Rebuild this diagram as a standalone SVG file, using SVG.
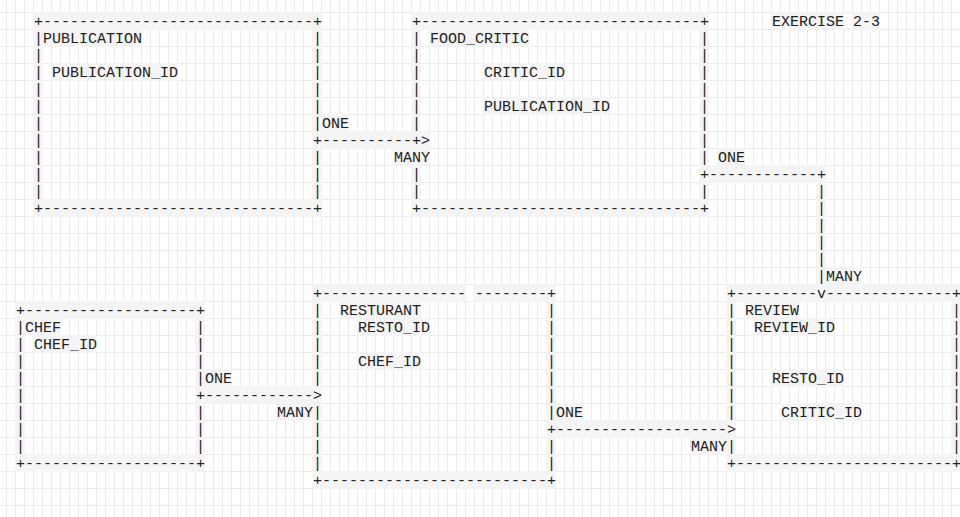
<svg xmlns="http://www.w3.org/2000/svg" width="960" height="517" viewBox="0 0 960 517">
<style>
text{font-family:"Liberation Mono","Courier New",monospace;font-size:15px;fill:#222;white-space:pre;transform:translate(1px,0)}
.b{fill:#f4f4f4}
</style>
<defs>
<pattern id="grid" x="6" y="12" width="9" height="17" patternUnits="userSpaceOnUse">
<rect width="9" height="1" fill="#ebebeb"/>
<rect width="1" height="17" fill="#ebebeb"/>
</pattern>
</defs>
<rect width="960" height="517" fill="#fff"/>
<rect width="960" height="517" fill="url(#grid)"/>

<g id="title">
<rect class="b" x="771" y="12" width="73" height="18"/>
<rect class="b" x="852" y="12" width="28" height="18"/>
<text x="771" y="26" xml:space="preserve">EXERCISE 2-3</text>
</g>

<g id="publication">
<rect class="b" x="33" y="12" width="289" height="18"/>
<rect class="b" x="33" y="199" width="289" height="18"/>
<rect class="b" x="33" y="12" width="10" height="205"/>
<rect class="b" x="312" y="12" width="10" height="205"/>
<rect class="b" x="42" y="29" width="100" height="18"/>
<rect class="b" x="51" y="63" width="127" height="18"/>
<text y="26"><tspan x="33">+------------------------------</tspan><tspan x="312">+</tspan></text>
<text x="33 33 33 33 33 33 33 33 33 33" y="43 60 77 94 111 128 145 162 179 196">||||||||||</text>
<text x="312 312 312 312 312 312 312 312 312" y="43 60 77 94 111 128 162 179 196">|||||||||</text>
<text x="42" y="43">PUBLICATION</text>
<text x="51" y="77">PUBLICATION_ID</text>
<text y="213"><tspan x="33">+------------------------------</tspan><tspan x="312">+</tspan></text>
</g>

<g id="food_critic">
<rect class="b" x="411" y="12" width="298" height="18"/>
<rect class="b" x="411" y="199" width="298" height="18"/>
<rect class="b" x="411" y="12" width="10" height="205"/>
<rect class="b" x="699" y="12" width="10" height="205"/>
<rect class="b" x="429" y="29" width="100" height="18"/>
<rect class="b" x="483" y="63" width="82" height="18"/>
<rect class="b" x="483" y="97" width="127" height="18"/>
<text y="26"><tspan x="411">+-------------------------------</tspan><tspan x="699">+</tspan></text>
<text x="411 411 411 411 411 411 411 411" y="43 60 77 94 111 128 179 196">||||||||</text>
<text x="699 699 699 699 699 699 699 699 699" y="43 60 77 94 111 128 145 162 196">|||||||||</text>
<text x="429" y="43">FOOD_CRITIC</text>
<text x="483" y="77">CRITIC_ID</text>
<text x="483" y="111">PUBLICATION_ID</text>
<text y="213"><tspan x="411">+-------------------------------</tspan><tspan x="699">+</tspan></text>
</g>

<g id="chef">
<rect class="b" x="15" y="301" width="190" height="18"/>
<rect class="b" x="15" y="454" width="190" height="18"/>
<rect class="b" x="15" y="301" width="10" height="171"/>
<rect class="b" x="195" y="301" width="10" height="171"/>
<rect class="b" x="24" y="318" width="37" height="18"/>
<rect class="b" x="33" y="335" width="64" height="18"/>
<text y="315"><tspan x="15">+-------------------</tspan><tspan x="195">+</tspan></text>
<text x="15 15 15 15 15 15 15 15" y="332 349 366 383 400 417 434 451">||||||||</text>
<text x="195 195 195 195 195 195 195" y="332 349 366 383 417 434 451">|||||||</text>
<text x="24" y="332">CHEF</text>
<text x="33" y="349">CHEF_ID</text>
<text y="468"><tspan x="15">+-------------------</tspan><tspan x="195">+</tspan></text>
</g>

<g id="resturant">
<rect class="b" x="312" y="284" width="154" height="18"/>
<rect class="b" x="474" y="284" width="82" height="18"/>
<rect class="b" x="312" y="471" width="244" height="18"/>
<rect class="b" x="312" y="284" width="10" height="205"/>
<rect class="b" x="546" y="284" width="10" height="205"/>
<rect class="b" x="339" y="301" width="82" height="18"/>
<rect class="b" x="357" y="318" width="73" height="18"/>
<rect class="b" x="357" y="352" width="64" height="18"/>
<text y="298"><tspan x="312">+----------------</tspan><tspan x="474">--------</tspan><tspan x="546">+</tspan></text>
<text x="312 312 312 312 312 312 312 312 312" y="315 332 349 366 383 417 434 451 468">|||||||||</text>
<text x="546 546 546 546 546 546 546 546 546" y="315 332 349 366 383 400 417 451 468">|||||||||</text>
<text x="339" y="315">RESTURANT</text>
<text x="357" y="332">RESTO_ID</text>
<text x="357" y="366">CHEF_ID</text>
<text y="485"><tspan x="312">+-------------------------</tspan><tspan x="546">+</tspan></text>
</g>

<g id="review">
<rect class="b" x="726" y="284" width="235" height="18"/>
<rect class="b" x="726" y="454" width="235" height="18"/>
<rect class="b" x="726" y="284" width="10" height="188"/>
<rect class="b" x="951" y="284" width="10" height="188"/>
<rect class="b" x="744" y="301" width="55" height="18"/>
<rect class="b" x="753" y="318" width="82" height="18"/>
<rect class="b" x="771" y="369" width="73" height="18"/>
<rect class="b" x="780" y="403" width="82" height="18"/>
<text y="298"><tspan x="726">+---------</tspan><tspan x="825">--------------</tspan><tspan x="951">+</tspan></text>
<text x="726 726 726 726 726 726 726 726" y="315 332 349 366 383 400 417 451">||||||||</text>
<text x="951 951 951 951 951 951 951 951 951" y="315 332 349 366 383 400 417 434 451">|||||||||</text>
<text x="744" y="315">REVIEW</text>
<text x="753" y="332">REVIEW_ID</text>
<text x="771" y="383">RESTO_ID</text>
<text x="780" y="417">CRITIC_ID</text>
<text y="468"><tspan x="726">+------------------------</tspan><tspan x="951">+</tspan></text>
</g>

<g id="connectors">
<g id="pub-critic">
<rect class="b" x="321" y="114" width="28" height="18"/>
<rect class="b" x="312" y="131" width="118" height="18"/>
<rect class="b" x="393" y="148" width="37" height="18"/>
<text x="321" y="128">ONE</text>
<text y="145"><tspan x="312">+----------</tspan><tspan x="411">+&gt;</tspan></text>
<text x="393" y="162">MANY</text>
</g>
<g id="critic-review">
<rect class="b" x="717" y="148" width="28" height="18"/>
<rect class="b" x="699" y="165" width="127" height="18"/>
<rect class="b" x="816" y="182" width="10" height="103"/>
<rect class="b" x="825" y="267" width="37" height="18"/>
<text x="717" y="162">ONE</text>
<text y="179"><tspan x="699">+------------</tspan><tspan x="816">+</tspan></text>
<text x="816 816 816 816 816 816" y="196 213 230 247 264 281">||||||</text>
<text x="825" y="281">MANY</text>
<text x="816" y="298">v</text>
</g>
<g id="chef-resturant">
<rect class="b" x="204" y="369" width="28" height="18"/>
<rect class="b" x="195" y="386" width="127" height="18"/>
<rect class="b" x="276" y="403" width="37" height="18"/>
<text x="204" y="383">ONE</text>
<text y="400"><tspan x="195">+------------</tspan><tspan x="312">&gt;</tspan></text>
<text x="276" y="417">MANY</text>
</g>
<g id="resturant-review">
<rect class="b" x="555" y="403" width="28" height="18"/>
<rect class="b" x="546" y="420" width="190" height="18"/>
<rect class="b" x="690" y="437" width="37" height="18"/>
<text x="555" y="417">ONE</text>
<text y="434"><tspan x="546">+-------------------</tspan><tspan x="726">&gt;</tspan></text>
<text x="690" y="451">MANY</text>
</g>
</g>
</svg>
